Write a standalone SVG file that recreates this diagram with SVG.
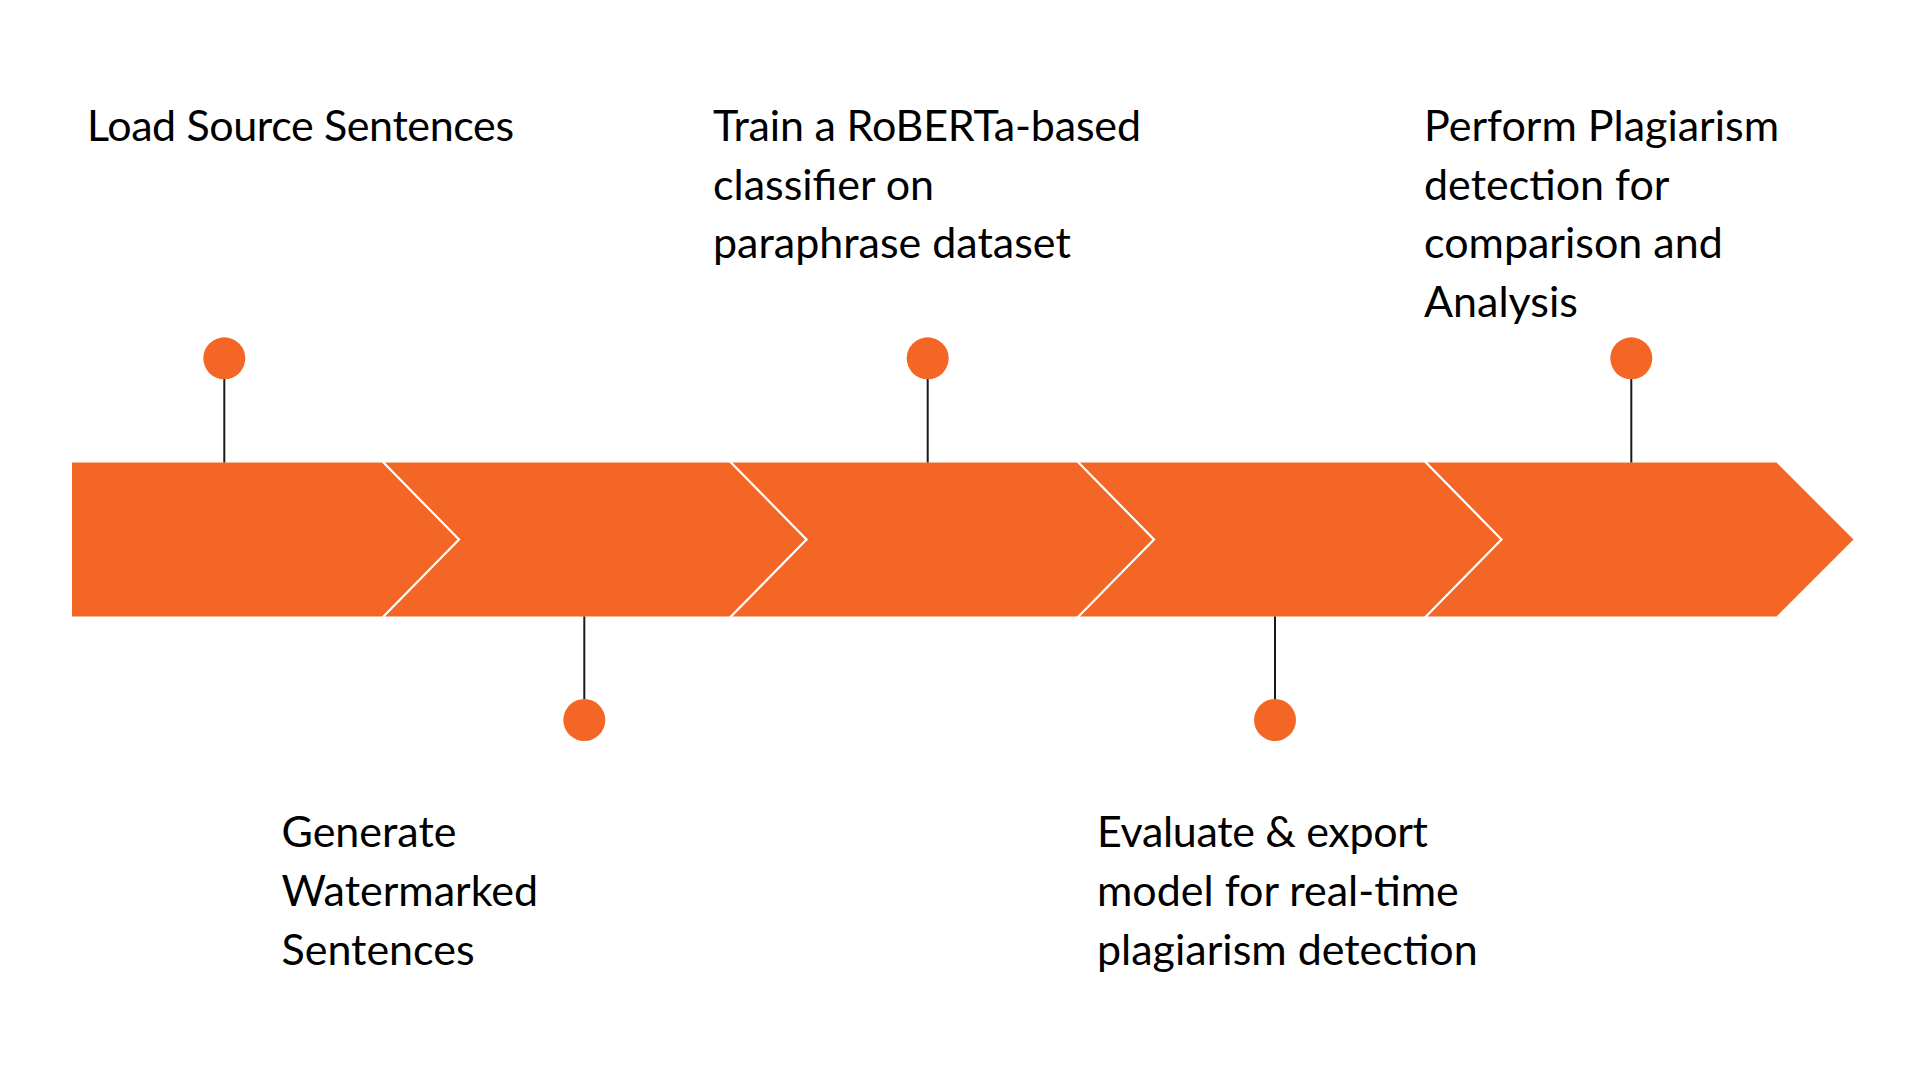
<svg xmlns="http://www.w3.org/2000/svg" width="1919" height="1079" viewBox="0 0 1919 1079">
<style>
.band{fill:#F36626}
.sep{fill:none;stroke:#FFFFFF;stroke-width:2.2}
.stem{stroke:#1A1A1A;stroke-width:2}
.dot{fill:#F36626}
.lbl{font-family:Lato,"Noto Sans","Liberation Sans",sans-serif;font-size:43px;fill:#000000}
</style>
<rect width="1919" height="1079" fill="#FFFFFF"/>
<g id="band">
<polygon class="band" points="72,462.5 1776.5,462.5 1853.5,539.5 1776.5,616.5 72,616.5"/>
<polyline class="sep" points="382,461 459,539.5 382,618"/>
<polyline class="sep" points="729.5,461 806.5,539.5 729.5,618"/>
<polyline class="sep" points="1077,461 1154,539.5 1077,618"/>
<polyline class="sep" points="1424.5,461 1501.5,539.5 1424.5,618"/>
</g>
<g id="connectors">
<line class="stem" x1="224.3" y1="378" x2="224.3" y2="462.5"/>
<line class="stem" x1="927.7" y1="378" x2="927.7" y2="462.5"/>
<line class="stem" x1="1631.3" y1="378" x2="1631.3" y2="462.5"/>
<line class="stem" x1="584.3" y1="616.5" x2="584.3" y2="700"/>
<line class="stem" x1="1275" y1="616.5" x2="1275" y2="700"/>
</g>
<g id="step1">
<circle class="dot" cx="224.3" cy="358.3" r="21"/>
<text class="lbl" x="87" y="141" textLength="427" lengthAdjust="spacing">Load Source Sentences</text>
</g>
<g id="step2">
<circle class="dot" cx="584.3" cy="720" r="21"/>
<text class="lbl" x="281.5" y="847.3">Generate</text>
<text class="lbl" x="281.5" y="906">Watermarked</text>
<text class="lbl" x="281.5" y="965">Sentences</text>
</g>
<g id="step3">
<circle class="dot" cx="927.7" cy="358.3" r="21"/>
<text class="lbl" x="713" y="141" textLength="428" lengthAdjust="spacing">Train a RoBERTa-based</text>
<text class="lbl" x="713" y="199.5">classifier on</text>
<text class="lbl" x="713" y="258">paraphrase dataset</text>
</g>
<g id="step4">
<circle class="dot" cx="1275" cy="720" r="21"/>
<text class="lbl" x="1097" y="847.3" textLength="331" lengthAdjust="spacing">Evaluate &amp; export</text>
<text class="lbl" x="1097" y="906">model for real-time</text>
<text class="lbl" x="1097" y="965">plagiarism detection</text>
</g>
<g id="step5">
<circle class="dot" cx="1631.3" cy="358.3" r="21"/>
<text class="lbl" x="1424" y="141">Perform Plagiarism</text>
<text class="lbl" x="1424" y="199.5">detection for</text>
<text class="lbl" x="1424" y="258">comparison and</text>
<text class="lbl" x="1424" y="316.7">Analysis</text>
</g>
</svg>
